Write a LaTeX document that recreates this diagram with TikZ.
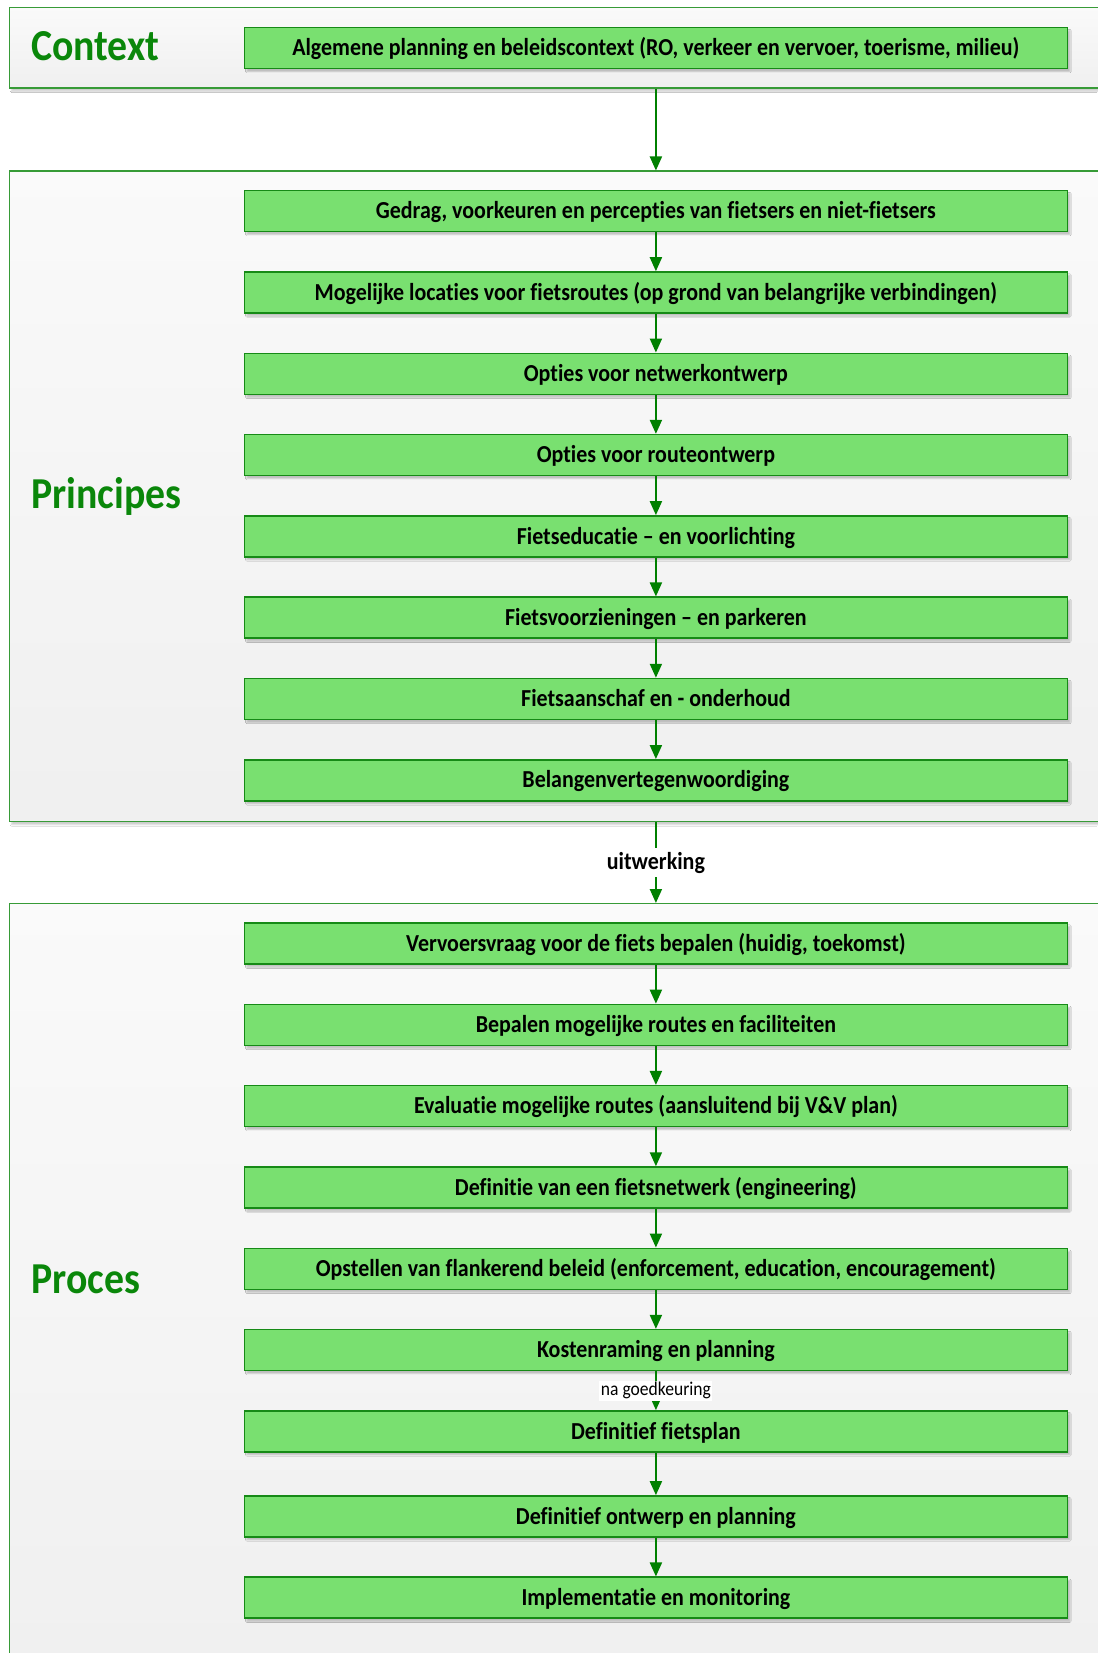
\documentclass[tikz,border=0pt]{standalone}
\usepackage{fontspec}
\setmainfont{Carlito}[FakeStretch=0.9, Ligatures=NoCommon]
\usepackage{tikz}
\usetikzlibrary{arrows.meta}
\usetikzlibrary{shadows.blur,positioning}

\definecolor{titelgroen}{RGB}{10,135,10}
\definecolor{stapvulling}{RGB}{121,224,112}
\definecolor{staprand}{RGB}{22,138,22}
\definecolor{fasegrens}{RGB}{55,155,55}
\definecolor{pijlgroen}{RGB}{0,128,0}

\begin{document}
\begin{tikzpicture}[x=1pt, y=1pt, node distance=38.8pt,
    fase/.style = {rectangle, draw=fasegrens, line width=1.3pt, top color=white!98!black, bottom color=black!6, minimum width=1100pt, anchor=north west, inner sep=0pt, blur shadow={shadow xshift=2pt, shadow yshift=-3pt, shadow blur radius=1.5pt, shadow opacity=20}},
    fasetitel/.style = {anchor=base west, inner sep=0pt, text=titelgroen, font=\bfseries\fontsize{44.2}{50}\selectfont},
    stap/.style = {rectangle, draw=staprand, fill=stapvulling, line width=1.5pt, minimum width=823.2pt, minimum height=41pt, inner sep=0pt, text height=15.3pt, text depth=0pt, font=\bfseries\fontsize{24.4}{28}\selectfont, blur shadow={shadow xshift=2.5pt, shadow yshift=-3pt, shadow blur radius=1.2pt, shadow opacity=22}},
    pijl/.style = {draw=pijlgroen, line width=2pt, -{Triangle[length=14pt,width=12pt]}},
    scale=1]
\fill[white] (0,0) rectangle (1097,-1653);
\useasboundingbox (0,0) rectangle (1097,-1653);

% fases
\node [fase, minimum height=80.5pt] (context) at (9,-7) {};
\node [fase, minimum height=650.5pt] (principes) at (9,-170.5) {};
\node [fase, minimum height=780pt] (proces) at (9,-903) {};

\node [fasetitel] (tcontext) at (31,-61) {Context};
\node [fasetitel] (tprincipes) at (31,-508) {Principes};
\node [fasetitel] (tproces) at (31,-1293.5) {Proces};

% context
\node [stap] (ctx) at (655.9,-48.2) {Algemene planning en beleidscontext (RO, verkeer en vervoer, toerisme, milieu)};

% principes
\node [stap] (pr1) at (655.9,-211.2) {Gedrag, voorkeuren en percepties van fietsers en niet-fietsers};
\node [stap, below=of pr1] (pr2) {Mogelijke locaties voor fietsroutes (op grond van belangrijke verbindingen)};
\node [stap, below=of pr2] (pr3) {Opties voor netwerkontwerp};
\node [stap, below=of pr3] (pr4) {Opties voor routeontwerp};
\node [stap, below=of pr4] (pr5) {Fietseducatie – en voorlichting};
\node [stap, below=of pr5] (pr6) {Fietsvoorzieningen – en parkeren};
\node [stap, below=of pr6] (pr7) {Fietsaanschaf en - onderhoud};
\node [stap, below=of pr7] (pr8) {Belangenvertegenwoordiging};

% proces
\node [stap] (pc1) at (655.9,-943.6) {Vervoersvraag voor de fiets bepalen (huidig, toekomst)};
\node [stap, below=of pc1] (pc2) {Bepalen mogelijke routes en faciliteiten};
\node [stap, below=of pc2] (pc3) {Evaluatie mogelijke routes (aansluitend bij V\&V plan)};
\node [stap, below=of pc3] (pc4) {Definitie van een fietsnetwerk (engineering)};
\node [stap, below=of pc4] (pc5) {Opstellen van flankerend beleid (enforcement, education, encouragement)};
\node [stap, below=of pc5] (pc6) {Kostenraming en planning};
\node [stap, below=of pc6] (pc7) {Definitief fietsplan};
\node [stap, below=42.5pt of pc7] (pc8) {Definitief ontwerp en planning};
\node [stap, below=of pc8] (pc9) {Implementatie en monitoring};

% pijlen
\draw [pijl] (context.south -| ctx) -- (principes.north -| ctx);
\draw [pijl] (pr1) -- (pr2);
\draw [pijl] (pr2) -- (pr3);
\draw [pijl] (pr3) -- (pr4);
\draw [pijl] (pr4) -- (pr5);
\draw [pijl] (pr5) -- (pr6);
\draw [pijl] (pr6) -- (pr7);
\draw [pijl] (pr7) -- (pr8);
\draw [pijl] (principes.south -| pr8) -- node [fill=white, inner sep=4pt, font=\bfseries\fontsize{24.4}{28}\selectfont] (uitw) {uitwerking} (proces.north -| pc1);
\draw [pijl] (pc1) -- (pc2);
\draw [pijl] (pc2) -- (pc3);
\draw [pijl] (pc3) -- (pc4);
\draw [pijl] (pc4) -- (pc5);
\draw [pijl] (pc5) -- (pc6);
\draw [pijl] (pc6) -- node [fill=white, inner sep=1.5pt, font=\fontsize{19.5}{22}\selectfont] (goedk) {na goedkeuring} (pc7);
\draw [pijl] (pc7) -- (pc8);
\draw [pijl] (pc8) -- (pc9);
\end{tikzpicture}
\end{document}
